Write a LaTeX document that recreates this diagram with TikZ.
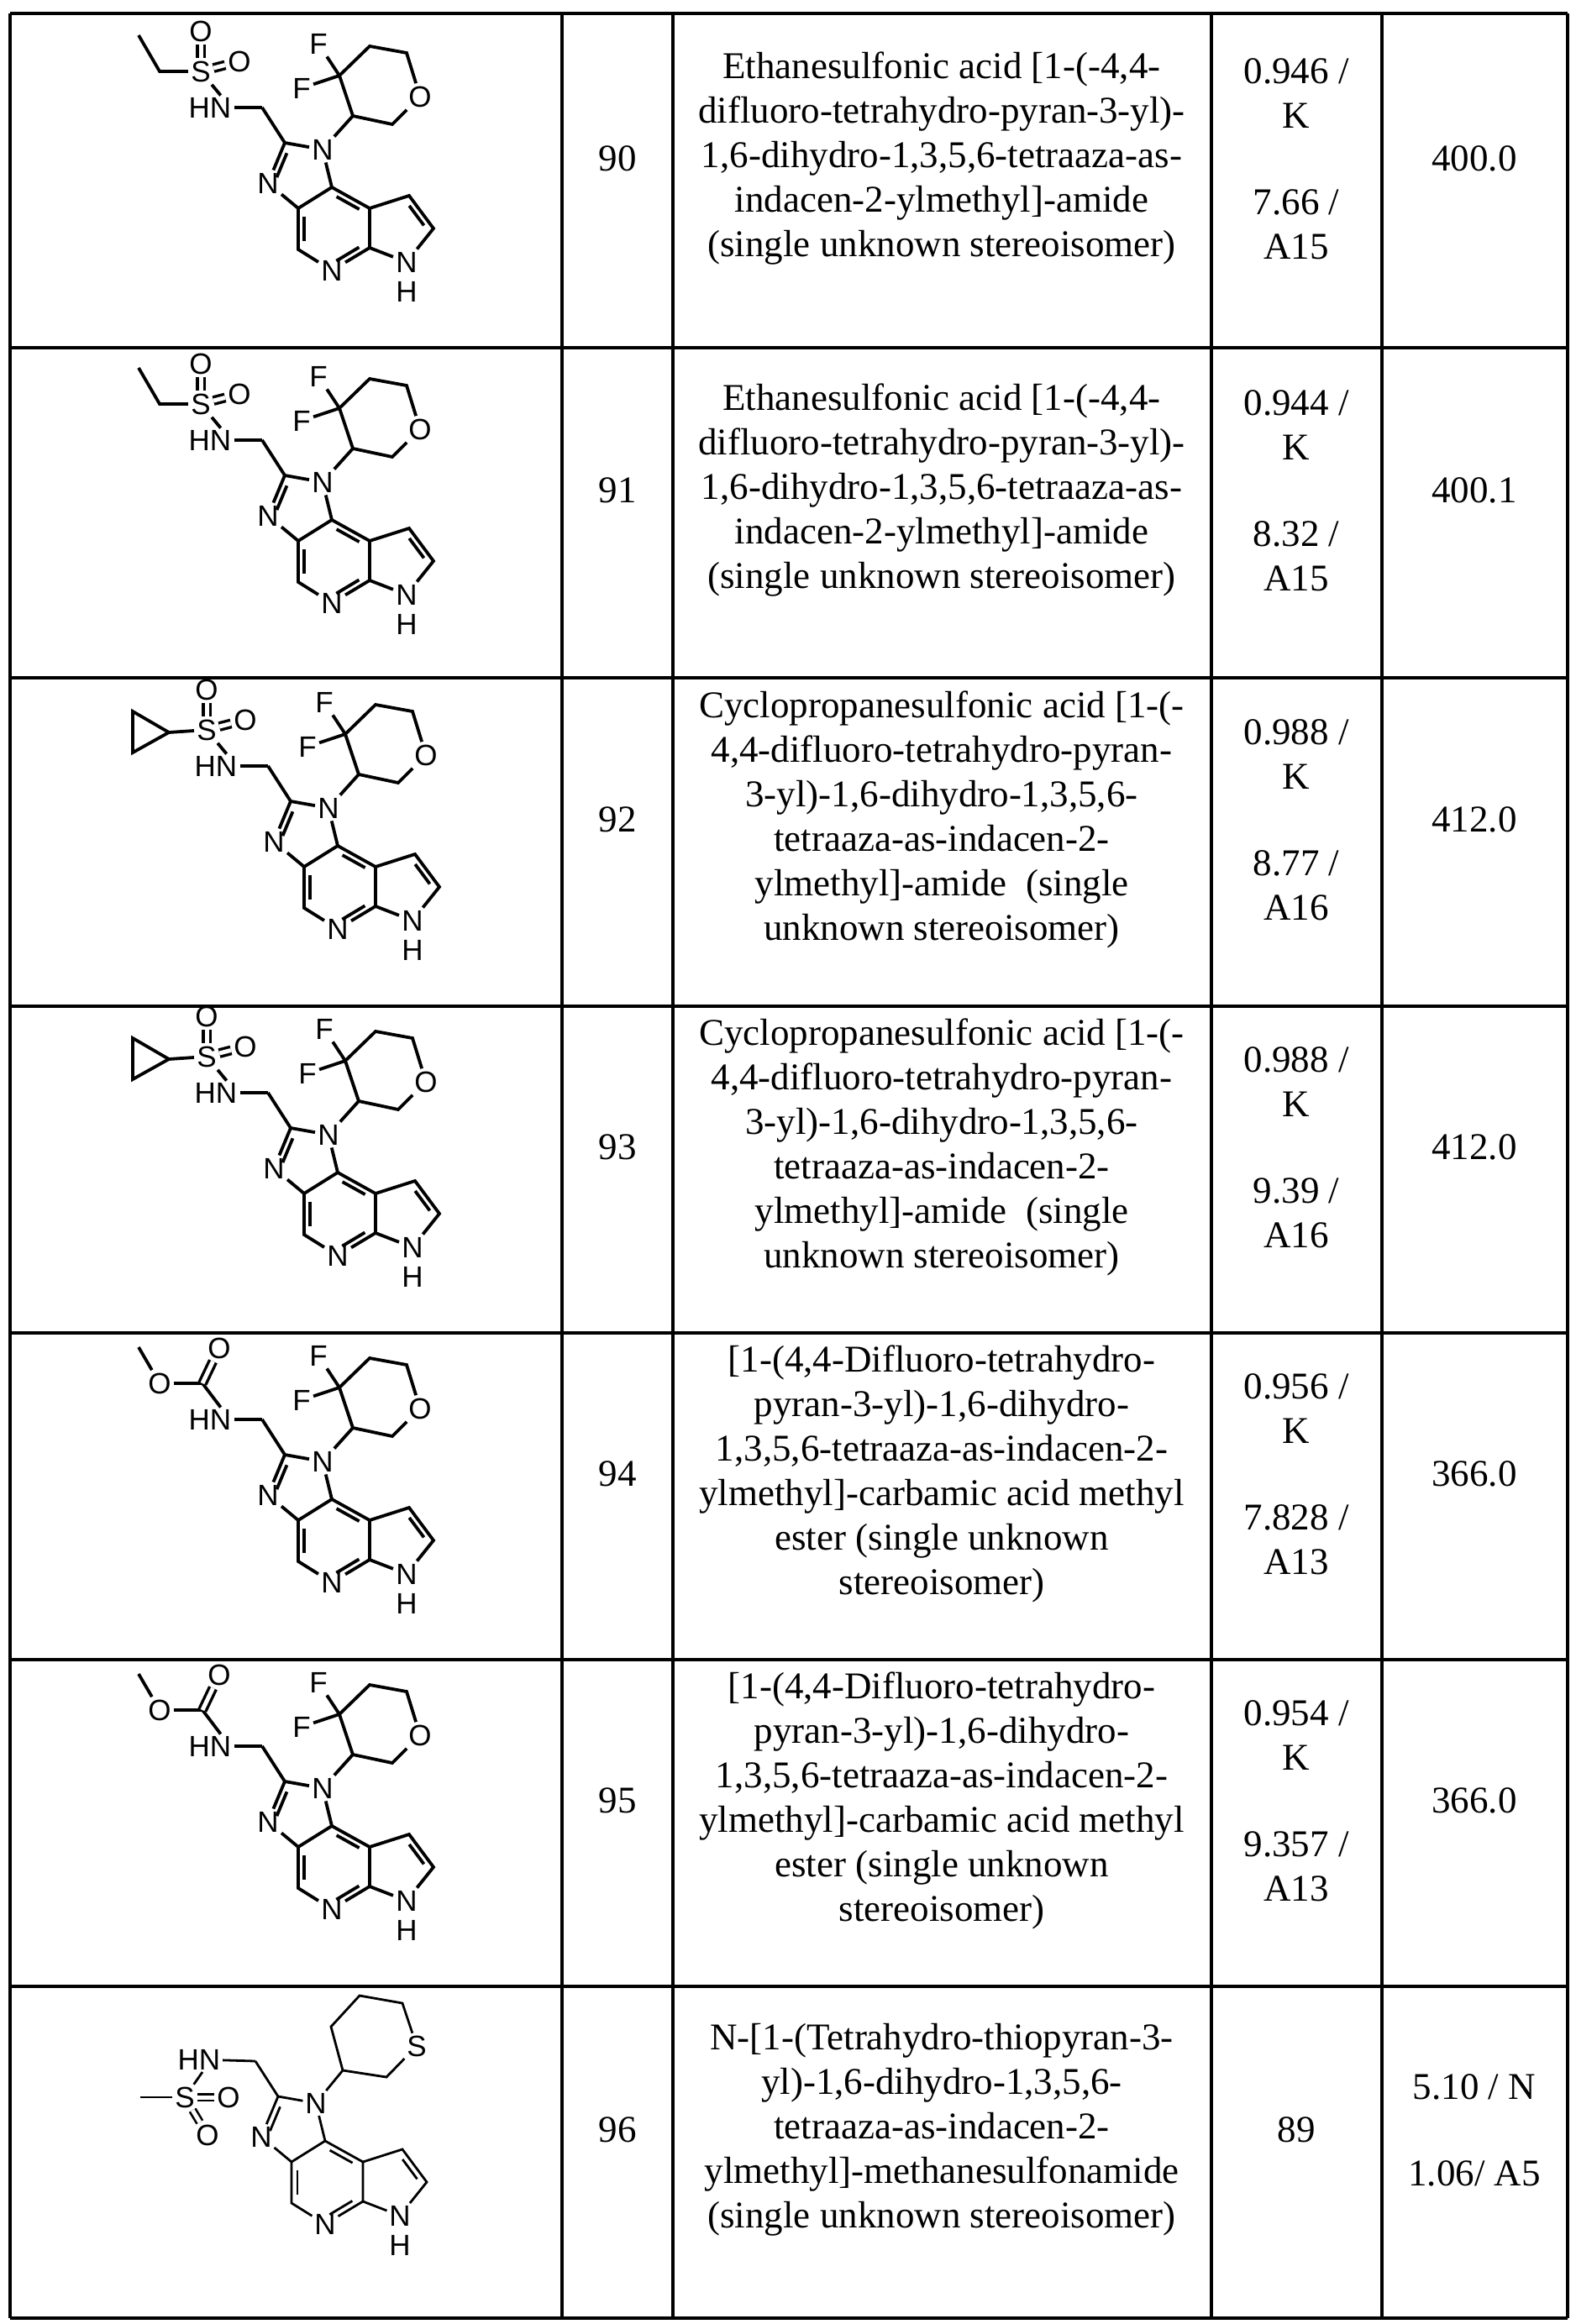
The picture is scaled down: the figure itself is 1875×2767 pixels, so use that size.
\documentclass[tikz,border=0pt]{standalone}
\usepackage{fontspec}
\setmainfont{Liberation Serif}
\newfontfamily\chemfont{Liberation Sans}
\usetikzlibrary{calc}
\newcommand\innerb[3]{\draw ($(#1)!0.2!(#2)!#3!90:(#2)$) -- ($(#2)!0.2!(#1)!#3!-90:(#1)$);}
\newcommand\corering{%
  \coordinate (C2) at (339,170);
  \node[atom] (N1) at (384,178) {N};
  \node[atom] (N3) at (319,218) {N};
  \coordinate (C3a) at (355,248);
  \coordinate (C7b) at (395,223);
  \coordinate (Cf) at (440,248);
  \coordinate (C3p) at (487,233);
  \coordinate (C2p) at (516,272);
  \node[atom] (NH) at (484,312) {N};
  \node[atom] (Hh) at (484,347) {H};
  \coordinate (C7a) at (440,295);
  \node[atom] (Np) at (395,322) {N};
  \coordinate (C4) at (355,297);
  \coordinate (CH2) at (312,128);
  \draw (C2) -- (N1) -- (C7b) -- (C3a) -- (N3) -- (C2);
  \draw (C3a) -- (C4) -- (Np) -- (C7a) -- (Cf) -- (C7b);
  \draw (Cf) -- (C3p) -- (C2p) -- (NH) -- (C7a);
  \innerb{C2}{N3}{7pt}
  \innerb{C3a}{C4}{7pt}
  \innerb{Np}{C7a}{7pt}
  \innerb{C7b}{Cf}{-7pt}
  \innerb{C3p}{C2p}{-7pt}
  \draw (C2) -- (CH2);
}
\newcommand\pyran{%
  \coordinate (P3) at (420,138);
  \coordinate (P4) at (404,90);
  \coordinate (P5) at (440,55);
  \coordinate (P6) at (484,63);
  \node[atom] (PO) at (500,115) {O};
  \coordinate (P2) at (467,148);
  \node[atom] (F1) at (379,52) {F};
  \node[atom] (F2) at (359,105) {F};
  \draw (N1) -- (P3) -- (P4) -- (P5) -- (P6) -- (PO) -- (P2) -- (P3);
  \draw (P4) -- (F1); \draw (P4) -- (F2);
}
\newcommand\hnlink{%
  \node[atom] (HN) at (250,128) {HN};
  \draw (HN) -- (CH2);
}
\newcommand\sulfonyl{%
  \node[atom] (S) at (239,85) {S};
  \node[atom] (O1) at (239,37) {O};
  \node[atom] (O2) at (285,73) {O};
  \draw (HN.north east) ++(-16pt,-1pt) coordinate (hnt);
  \draw (hnt) -- (S);
  \draw[dbl] (S) -- (O1);
  \draw[dbl] (S) -- (O2);
}
\begin{document}
\begin{tikzpicture}[x=1pt,y=-1pt,
  grid/.style={line width=3.5pt},
  atom/.style={font=\chemfont\fontsize{35}{35}\selectfont, inner sep=1.5pt},
  dbl/.style={double, double distance=5pt, line width=3.4pt},
  cell/.style={align=center, font=\fontsize{45}{53}\selectfont, inner sep=0pt},
  every path/.append style={line width=3.8pt}]
\useasboundingbox (0,0) rectangle (1875,2767);
% table grid
\foreach \x in {12,669,801,1442,1645,1866} \draw[grid] (\x,16) -- (\x,2760);
\foreach \y in {16,414,807,1198,1587,1976,2365,2760} \draw[grid] (12,\y) -- (1866,\y);
% row 1 & 2: ethanesulfonyl
\foreach \dy in {0,396}{
\begin{scope}[shift={(0,\dy)}]
  \corering \pyran \hnlink \sulfonyl
  \coordinate (E1) at (190,85); \coordinate (E2) at (165,42);
  \draw (S) -- (E1) -- (E2);
\end{scope}}
% row 3 & 4: cyclopropylsulfonyl
\foreach \dy in {784,1173}{
\begin{scope}[shift={(7,\dy)}]
  \corering \pyran \hnlink \sulfonyl
  \coordinate (K1) at (194,88); \coordinate (K2) at (151,63); \coordinate (K3) at (151,112);
  \draw (S) -- (K1); \draw (K1) -- (K2) -- (K3) -- cycle;
\end{scope}}
% row 5 & 6: carbamate
\foreach \dy in {1562,1951}{
\begin{scope}[shift={(0,\dy)}]
  \corering \pyran \hnlink
  \coordinate (Cc) at (241,85);
  \node[atom] (Ot) at (261,43) {O};
  \node[atom] (Oe) at (190,85) {O};
  \coordinate (Me) at (165,42);
  \draw (HN.north east) ++(-16pt,-1pt) coordinate (hnt);
  \draw (hnt) -- (Cc) -- (Oe) -- (Me);
  \draw[dbl] (Cc) -- (Ot);
\end{scope}}
% row 7: thiopyran
\begin{scope}[shift={(-8,2326)}, every path/.append style={line width=2.8pt}]
  \corering
  \node[atom] (HN) at (245,126) {HN};
  \draw (HN) -- (CH2);
  \node[atom] (S) at (228,171) {S};
  \node[atom] (O1) at (280,171) {O};
  \node[atom] (O2) at (255,216) {O};
  \coordinate (Me) at (175,171);
  \draw (HN.south) ++(4pt,0) coordinate (hnb);
  \draw (hnb) -- (S); \draw (S) -- (Me);
  \draw[dbl, line width=2.6pt] (S) -- (O1);
  \draw[dbl, line width=2.6pt] (S) -- (O2);
  \coordinate (T3) at (416,139); \coordinate (T4) at (402,87);
  \coordinate (T5) at (436,50); \coordinate (T6) at (487,59);
  \node[atom] (TS) at (504,110) {S};
  \coordinate (T2) at (468,147);
  \draw (N1) -- (T3) -- (T4) -- (T5) -- (T6) -- (TS) -- (T2) -- (T3);
\end{scope}
% text cells
\begin{scope}[shift={(0,-26)}]
\node[cell] (n90) at (735,215) {90};
\node[cell] (n91) at (735,610) {91};
\node[cell] (n92) at (735,1002) {92};
\node[cell] (n93) at (735,1392) {93};
\node[cell] (n94) at (735,1781) {94};
\node[cell] (n95) at (735,2170) {95};
\node[cell] (n96) at (735,2562) {96};
\node[cell] (t90) at (1121,215) {Ethanesulfonic acid [1-(-4,4-\\difluoro-tetrahydro-pyran-3-yl)-\\1,6-dihydro-1,3,5,6-tetraaza-as-\\indacen-2-ylmethyl]-amide\\(single unknown stereoisomer)};
\node[cell] (t91) at (1121,610) {Ethanesulfonic acid [1-(-4,4-\\difluoro-tetrahydro-pyran-3-yl)-\\1,6-dihydro-1,3,5,6-tetraaza-as-\\indacen-2-ylmethyl]-amide\\(single unknown stereoisomer)};
\node[cell] (t92) at (1121,1002) {Cyclopropanesulfonic acid [1-(-\\4,4-difluoro-tetrahydro-pyran-\\3-yl)-1,6-dihydro-1,3,5,6-\\tetraaza-as-indacen-2-\\ylmethyl]-amide\ \ (single\\unknown stereoisomer)};
\node[cell] (t93) at (1121,1392) {Cyclopropanesulfonic acid [1-(-\\4,4-difluoro-tetrahydro-pyran-\\3-yl)-1,6-dihydro-1,3,5,6-\\tetraaza-as-indacen-2-\\ylmethyl]-amide\ \ (single\\unknown stereoisomer)};
\node[cell] (t94) at (1121,1781) {[1-(4,4-Difluoro-tetrahydro-\\pyran-3-yl)-1,6-dihydro-\\1,3,5,6-tetraaza-as-indacen-2-\\ylmethyl]-carbamic acid methyl\\ester (single unknown\\stereoisomer)};
\node[cell] (t95) at (1121,2170) {[1-(4,4-Difluoro-tetrahydro-\\pyran-3-yl)-1,6-dihydro-\\1,3,5,6-tetraaza-as-indacen-2-\\ylmethyl]-carbamic acid methyl\\ester (single unknown\\stereoisomer)};
\node[cell] (t96) at (1121,2562) {N-[1-(Tetrahydro-thiopyran-3-\\yl)-1,6-dihydro-1,3,5,6-\\tetraaza-as-indacen-2-\\ylmethyl]-methanesulfonamide\\(single unknown stereoisomer)};
\node[cell] (r90) at (1543,215) {0.946 /\\K\\[50pt]7.66 /\\A15};
\node[cell] (r91) at (1543,610) {0.944 /\\K\\[50pt]8.32 /\\A15};
\node[cell] (r92) at (1543,1002) {0.988 /\\K\\[50pt]8.77 /\\A16};
\node[cell] (r93) at (1543,1392) {0.988 /\\K\\[50pt]9.39 /\\A16};
\node[cell] (r94) at (1543,1781) {0.956 /\\K\\[50pt]7.828 /\\A13};
\node[cell] (r95) at (1543,2170) {0.954 /\\K\\[50pt]9.357 /\\A13};
\node[cell] (r96) at (1543,2562) {89};
\node[cell] (m90) at (1755,215) {400.0};
\node[cell] (m91) at (1755,610) {400.1};
\node[cell] (m92) at (1755,1002) {412.0};
\node[cell] (m93) at (1755,1392) {412.0};
\node[cell] (m94) at (1755,1781) {366.0};
\node[cell] (m95) at (1755,2170) {366.0};
\node[cell] (m96) at (1755,2562) {5.10 / N\\[50pt]1.06/ A5};
\end{scope}
\end{tikzpicture}
\end{document}
